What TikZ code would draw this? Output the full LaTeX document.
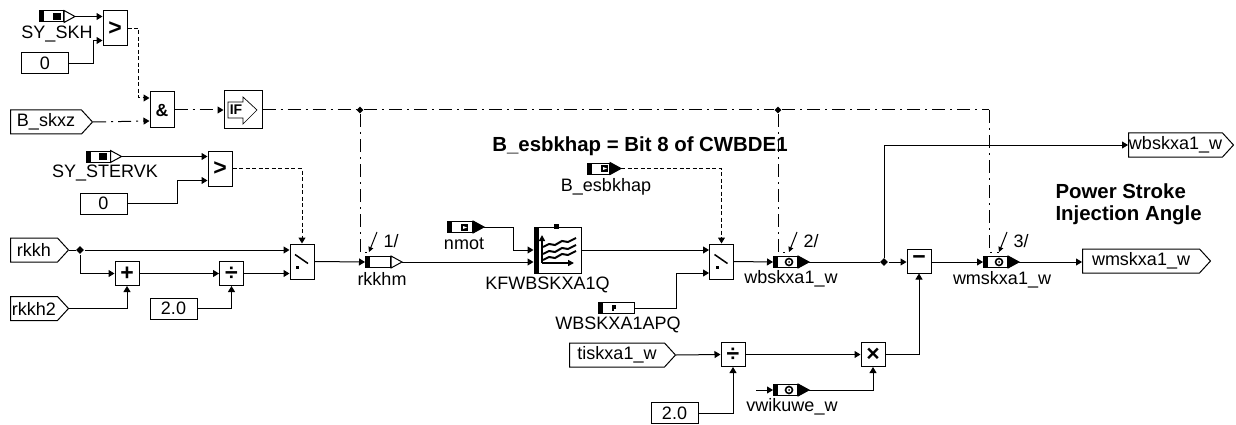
\documentclass[tikz,border=0pt]{standalone}
\usepackage{fontspec}
\setmainfont{Liberation Sans}
\usetikzlibrary{arrows.meta}
\usetikzlibrary{calc}
\usetikzlibrary{shapes.geometric}
\usetikzlibrary{shapes.symbols}

\tikzset{
  every node/.style={inner sep=0pt, font=\fontsize{18}{20}\selectfont},
  blk/.style={draw, fill=white, minimum width=24, minimum height=#1, font=\fontsize{23}{24}\selectfont\bfseries},
  blk/.default=24,
  cnst/.style={draw, minimum width=47, minimum height=21},
  port/.style={draw, signal, signal to=east, signal pointer angle=95, minimum height=24, minimum width=#1, anchor=west},
  termbody/.style={draw, fill=white, minimum width=#1, minimum height=11, anchor=west},
  termbody/.default=24,
  jct/.style={diamond, fill=black, minimum size=8},
  lbl/.style={font=\fontsize{18}{20}\selectfont},
  head/.style={font=\fontsize{20.4}{22}\selectfont\bfseries},
  sig/.style={line width=1pt, -{Triangle[length=6pt,width=7pt]}},
  wire/.style={line width=1pt},
  ctla/.style={sig, dash pattern=on 4pt off 2.5pt},
  ctlb/.style={sig, dash pattern=on 13pt off 5pt on 2pt off 5pt},
  ctlc/.style={wire, dash pattern=on 13pt off 5pt on 2pt off 5pt}
}
\newcommand{\termband}[1]{\fill (#1.north west) rectangle ($(#1.south west)+(5,0)$);}
\newcommand{\termtip}[2]{\termband{#1}\draw[line width=1pt, fill=#2] (#1.north east) -- ($(#1.east)+(11,0)$) coordinate (#1t) -- (#1.south east) -- cycle;}

\begin{document}
\begin{tikzpicture}[x=1pt, y=-1pt, line width=1pt]
  \useasboundingbox (0,0) rectangle (1236,425);

  % Inputs, constants and outputs
  \node[port=82] (bskxz) at (10,122) {B\_skxz};
  \node[port=58] (rkkh) at (10,250) {rkkh};
  \node[port=58] (rkkhb) at (10,308.5) {rkkh2};
  \node[port=106] (tisk) at (569,355) {tiskxa1\_w};
  \node[port=105] (wbout) at (1128,145) {wbskxa1\_w};
  \node[port=128] (wmout) at (1082,261) {wmskxa1\_w};
  \node[cnst] (zeroa) at (45,63.5) {0};
  \node[cnst] (zerob) at (103.5,203.5) {0};
  \node[cnst] (twoa) at (173.5,308.5) {2.0};
  \node[cnst] (twob) at (674.5,413) {2.0};

  % Blocks
  \node[blk=35] (gta) at (115,28.5) {>};
  \node[blk=35] (gtb) at (220,168.5) {>};
  \node[blk=36, font=\fontsize{17.6}{20}\selectfont\bfseries] (andb) at (162,110) {\&};
  \node[blk=38, minimum width=38] (ifb) at (243,110) {};
  \node[blk] (plus) at (127,273.5) {+};
  \node[blk] (diva) at (231.5,273.5) {÷};
  \node[blk] (divb) at (733,354.5) {÷};
  \node[blk] (mult) at (873,354.5) {×};
  \node[blk] (minus) at (919,261) {\raisebox{1pt}{−}};
  \node[blk=35] (swa) at (302,261.5) {};
  \node[blk=35] (swb) at (721.5,261.5) {};
  \node[draw, fill=white, minimum width=47, minimum height=46] (map) at (557.5,250) {};

  % IF arrow
  \draw[line width=0.7pt] (228,102) -- (243,102) -- (243,97) -- (257,110) -- (243,124) -- (243,118) -- (228,118) -- cycle;
  \node[font=\fontsize{14}{14}\selectfont\bfseries] (iftxt) at (236,110) {IF};

  % Switch symbols
  \foreach \s in {swa,swb} {
    \draw[line width=1.5pt] ($(\s.center)+(-7,-7)$) -- ($(\s.center)+(6,2)$);
    \fill ($(\s.center)+(-6,4)$) rectangle ++(3,3);
  }

  % Map symbol
  \fill (534,227) rectangle (539,273);
  \fill (554,224) rectangle (559,229);
  \draw[line width=1.5pt, -{Triangle[length=6pt,width=6pt]}] (542,263) -- (542,235);
  \draw[line width=1.5pt, -{Triangle[length=6pt,width=6pt]}] (542,263) -- (574,263);
  \foreach \d in {0,7,13} {
    \draw[line width=2pt] (543,247+\d) -- (549,244+\d) -- (555,245+\d) -- (562,241+\d) -- (568,242+\d) -- (576,238+\d);
  }

  % Terminals
  \node[termbody] (tsk) at (39,16.5) {};
  \termtip{tsk}{white}
  \fill (53,13) rectangle (61,20);
  \node[termbody] (tst) at (85.5,156.5) {};
  \termtip{tst}{white}
  \fill (99,153) rectangle (107,160);
  \node[termbody=25] (trk) at (365,262) {};
  \termtip{trk}{white}
  \node[termbody=25] (tnm) at (447,227) {};
  \termtip{tnm}{black}
  \node[termbody=22] (tes) at (587,168.5) {};
  \termtip{tes}{black}
  \node[termbody] (twb) at (773,262) {};
  \termtip{twb}{black}
  \node[termbody] (twm) at (983,262) {};
  \termtip{twm}{black}
  \node[termbody] (tvw) at (773,390) {};
  \termtip{tvw}{black}
  \node[termbody=36] (tap) at (598,308) {};
  \termband{tap}
  \coordinate (tvwin) at (756,390);

  % Glyphs in the terminals
  \fill (461,224) rectangle (468,231);
  \fill[white] (463,226) -- (467,227.5) -- (463,229) -- cycle;
  \fill (601,165) rectangle (608,172);
  \fill[white] (603,167) -- (607,168.5) -- (603,170) -- cycle;
  \foreach \x/\y in {789/262,999/262,789/390} {
    \draw[line width=1.6pt] (\x,\y) circle (3.5);
    \fill (\x,\y) circle (1);
  }
  \fill (612,305) rectangle (616,309);
  \fill (612,309) rectangle (614,311);

  % Junctions
  \node[jct] (ja) at (80,250) {};
  \node[jct] (jb) at (884,262) {};
  \node[jct, minimum size=7] (jc) at (360,110) {};
  \node[jct, minimum size=7] (jd) at (778,110) {};

  % Solid lines
  \draw[sig] (tskt) -- (tskt -| gta.west);
  \draw[sig] (zeroa.east) -- ++(24,0) |- ($(gta.west)+(0,12)$);
  \draw[sig] (tstt) -- (tstt -| gtb.west);
  \draw[sig] (zerob.east) -- ++(50,0) |- ($(gtb.west)+(0,12)$);
  \draw[wire] (rkkh.east) -- (ja);
  \draw[sig] (ja) -- (ja -| swa.west);
  \draw[sig] (ja) |- (plus.west);
  \draw[sig] (plus.east) -- (diva.west);
  \draw[sig] (diva.east) -- (diva.east -| swa.west);
  \draw[sig] (rkkhb.east) -| (plus.south);
  \draw[sig] (twoa.east) -| (diva.south);
  \draw[sig] (swa.east) -- (trk.west);
  \draw[sig] (trkt) -- (trkt -| map.west);
  \draw[wire] (tnmt) -- ++(29,0) coordinate (tnmb) -- (tnmb |- map.west);
  \draw[sig] (tnmb |- map.west) -- (map.west);
  \draw[sig] (map.east) -- (map.east -| swb.west);
  \draw[sig] (tap.east) -- ++(41,0) |- ($(swb.west)+(0,11.5)$);
  \draw[sig] (swb.east) -- (twb.west);
  \draw[wire] (twbt) -- (jb);
  \draw[sig] (jb) -- (minus.west |- jb);
  \draw[sig] (jb) |- (wbout.west);
  \draw[sig] (minus.east |- twm.west) -- (twm.west);
  \draw[sig] (twmt) -- (twmt -| wmout.west);
  \draw[sig] (tisk.east) -- (divb.west);
  \draw[sig] (divb.east) -- (mult.west);
  \draw[sig] (twob.east) -| (divb.south);
  \draw[sig] (tvwin) -- (tvw.west);
  \draw[sig] (tvwt) -| (mult.south);
  \draw[sig] (mult.east) -| (minus.south);

  % Control lines
  \draw[ctla] (gta.east) -- ++(11,0) |- ($(andb.west)+(0,-12)$);
  \draw[ctlb] (bskxz.east) -- ($(andb.west)+(0,11)$);
  \draw[ctlb] (andb.east) -- (ifb.west);
  \draw[ctla] (gtb.east) -| (swa.north);
  \draw[ctla] (test) -| (swb.north);
  \draw[ctlc] (ifb.east) -- (jc);
  \draw[ctlc] (jc) -- (jd);
  \coordinate (jr) at (989,110);
  \draw[ctlc] (jd) -- (jr);

  % Write enable marks
  \foreach \j/\tx/\num/\nm in {jc/369/1/wa, jd/789/2/wb, jr/999/3/wc} {
    \coordinate (\nm end) at (\tx,252);
    \coordinate (\nm top) at (\tx+8,232);
    \draw[ctlc] (\j) |- (\nm end);
    \draw[sig, -{Triangle[length=5pt,width=5pt]}] (\nm top) -- (\nm end);
    \node[lbl, anchor=west] (\nm txt) at (\tx+14,241) {\num/};
  }

  % Labels
  \node[lbl] (lsk) at (57,34) {SY\_SKH};
  \node[lbl] (lst) at (105,173) {SY\_STERVK};
  \node[lbl] (lrk) at (382,279) {rkkhm};
  \node[lbl] (lnm) at (464,244) {nmot};
  \node[lbl] (les) at (606,187) {B\_esbkhap};
  \node[lbl] (lkf) at (547.5,285) {KFWBSKXA1Q};
  \node[lbl] (lap) at (618,325) {WBSKXA1APQ};
  \node[lbl] (lwb) at (791,279) {wbskxa1\_w};
  \node[lbl] (lwm) at (1002,280) {wmskxa1\_w};
  \node[lbl] (lvw) at (792,407) {vwikuwe\_w};
  \node[head] (title) at (640,146) {B\_esbkhap = Bit 8 of CWBDE1};
  \node[head, align=left, anchor=north west] (side) at (1055,183) {Power Stroke\\Injection Angle};
\end{tikzpicture}
\end{document}
